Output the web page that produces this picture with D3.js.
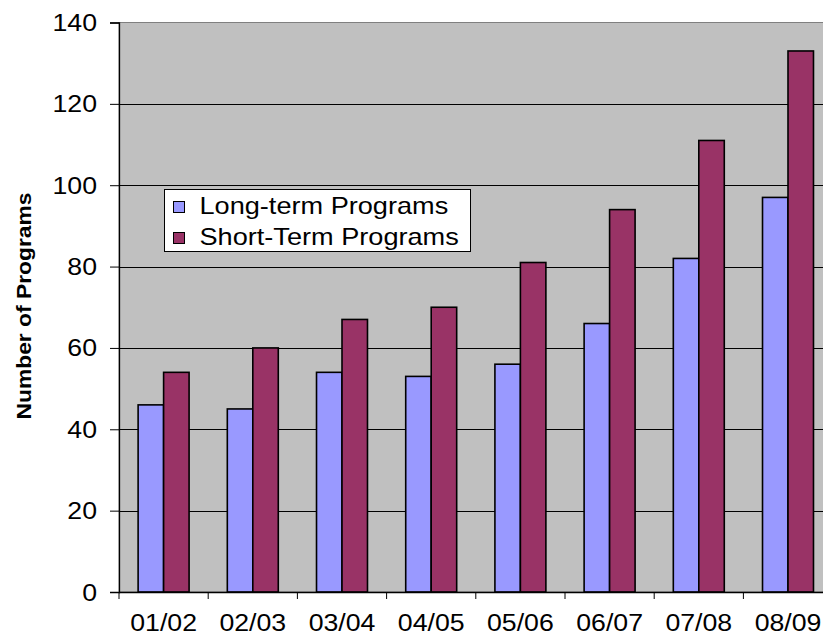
<!DOCTYPE html>
<html>
<head>
<meta charset="utf-8">
<script src="https://cdn.jsdelivr.net/npm/d3@7"></script>
<style>
  html, body { margin: 0; padding: 0; background: #fff; }
  svg { display: block; }
  text { font-family: "Liberation Sans", Arial, sans-serif; fill: #000; }
</style>
</head>
<body>
<svg id="chart" width="823" height="636"></svg>
<script>
const categories = ["01/02", "02/03", "03/04", "04/05", "05/06", "06/07", "07/08", "08/09"];
const seriesNames = ["Long-term Programs", "Short-Term Programs"];
const longTerm = [46, 45, 54, 53, 56, 66, 82, 97];
const shortTerm = [54, 60, 67, 70, 81, 94, 111, 133];
const yTicks = [0, 20, 40, 60, 80, 100, 120, 140];
const colors = ["#9999FF", "#993366"];

(function () {
const svg = d3.select("#chart");
const pLeft = 119, pTop = 22.5, pBottom = 592, bandW = 89.2;
const pRight = pLeft + bandW * categories.length;

const x = d3.scaleBand().domain(categories).range([pLeft, pRight]).paddingInner(0).paddingOuter(0);
const y = d3.scaleLinear().domain([0, 140]).range([pBottom, pTop]);
const inner = d3.scaleBand().domain([0, 1]).range([0, x.bandwidth()]).paddingInner(0).paddingOuter(0.75);

const SX = 1.16, FS = 23;

// plot area background
svg.append("rect").attr("x", pLeft).attr("y", pTop).attr("width", pRight - pLeft).attr("height", pBottom - pTop)
  .attr("fill", "#C0C0C0").attr("stroke", "#808080").attr("stroke-width", 1);

// gridlines
svg.append("g").selectAll("line").data(yTicks.filter(d => d > 0 && d < 140)).join("line")
  .attr("x1", pLeft).attr("x2", pRight)
  .attr("y1", d => Math.round(y(d)) + 0.5).attr("y2", d => Math.round(y(d)) + 0.5)
  .attr("stroke", "#000").attr("stroke-width", 1);

// bars
const data = categories.map((c, i) => ({c, vals: [longTerm[i], shortTerm[i]]}));
const groups = svg.append("g").selectAll("g").data(data).join("g")
  .attr("transform", d => `translate(${x(d.c)},0)`);
groups.selectAll("rect").data(d => d.vals.map((v, k) => ({v, k}))).join("rect")
  .attr("x", d => inner(d.k))
  .attr("width", inner.bandwidth())
  .attr("y", d => y(d.v))
  .attr("height", d => pBottom - y(d.v))
  .attr("fill", d => colors[d.k])
  .attr("stroke", "#000").attr("stroke-width", 1.6);

// y axis
const yAxis = svg.append("g").attr("transform", `translate(${pLeft},0)`)
  .call(d3.axisLeft(y).tickValues(yTicks).tickSize(9).tickPadding(0).tickFormat(d3.format("d")));
yAxis.select(".domain").attr("stroke", "#000").attr("stroke-width", 1.3);
yAxis.selectAll(".tick line").attr("stroke", "#000");
yAxis.selectAll(".tick text").remove();
yAxis.selectAll(".tick").append("g")
  .attr("transform", `translate(-22,8) scale(${SX},1)`)
  .append("text").attr("text-anchor", "end").attr("font-size", FS).text(d => d);

// x axis
const xAxis = svg.append("g").attr("transform", `translate(0,${pBottom})`)
  .call(d3.axisBottom(x).tickSize(0).tickFormat(""));
xAxis.select(".domain").remove();
svg.append("line").attr("x1", pLeft).attr("x2", pRight).attr("y1", pBottom + 0.5).attr("y2", pBottom + 0.5)
  .attr("stroke", "#000").attr("stroke-width", 1.3);
svg.append("g").selectAll("line").data(categories.map(c => x(c)).concat([pRight])).join("line")
  .attr("x1", d => d).attr("x2", d => d).attr("y1", pBottom).attr("y2", pBottom + 7)
  .attr("stroke", "#000");
xAxis.selectAll(".tick").append("g")
  .attr("transform", `translate(0,39) scale(${SX},1)`)
  .append("text").attr("text-anchor", "middle").attr("font-size", FS).text(d => d);

// y title
svg.append("text")
  .attr("transform", "translate(31,306) rotate(-90)")
  .attr("text-anchor", "middle").attr("font-size", 20).attr("font-weight", "bold")
  .attr("textLength", 227).attr("lengthAdjust", "spacingAndGlyphs")
  .text("Number of Programs");

// legend
const lg = svg.append("g").attr("transform", "translate(164.5,189.5)");
lg.append("rect").attr("width", 306).attr("height", 62).attr("fill", "#fff").attr("stroke", "#000");
const items = lg.selectAll("g.item").data(seriesNames).join("g").attr("class", "item")
  .attr("transform", (d, i) => `translate(0,${i * 31})`);
items.append("rect").attr("x", 9).attr("y", 12).attr("width", 11).attr("height", 11)
  .attr("fill", (d, i) => colors[i]).attr("stroke", "#000");
items.append("g").attr("transform", `translate(35,24.5) scale(1.18,1)`)
  .append("text").attr("font-size", FS).text(d => d);
})();
</script>
</body>
</html>
